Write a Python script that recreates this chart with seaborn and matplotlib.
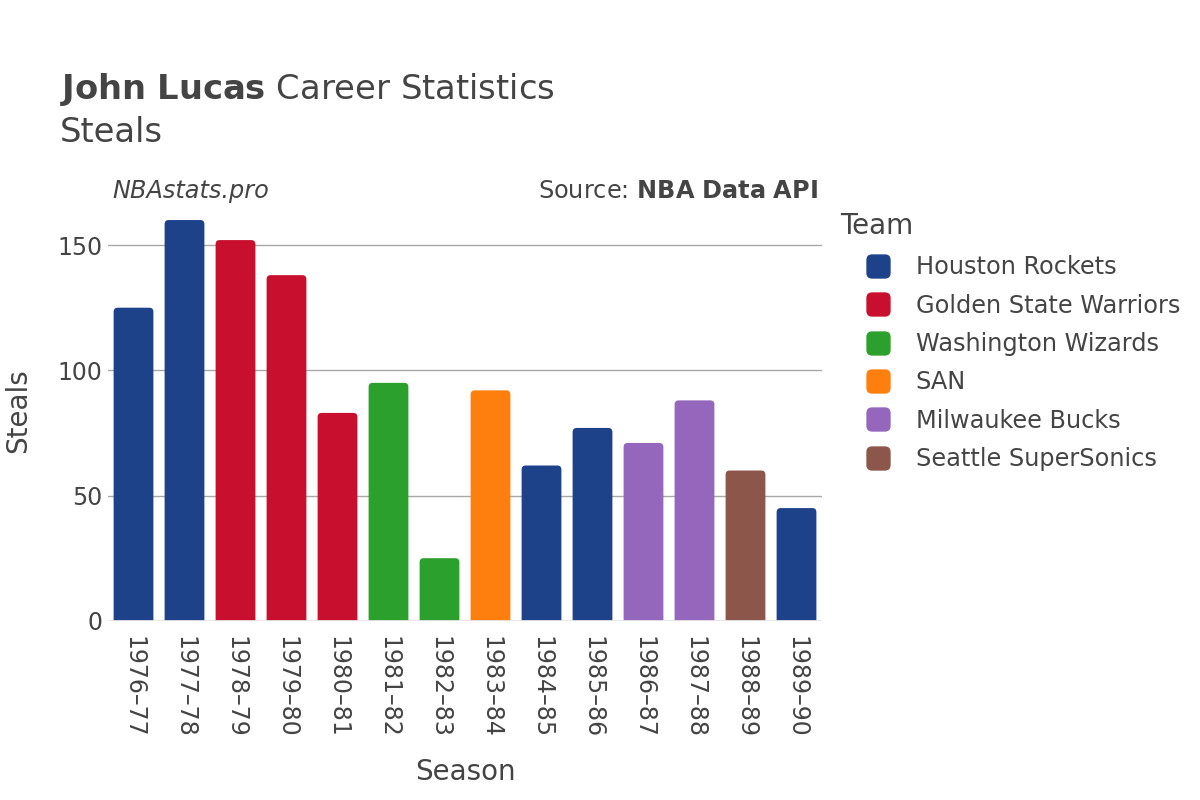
import pandas as pd
import seaborn as sns
import matplotlib.pyplot as plt
from matplotlib.lines import Line2D
from matplotlib.patches import FancyBboxPatch, BoxStyle

# Chart data
seasons = ['1976–77', '1977–78', '1978–79', '1979–80', '1980–81', '1981–82', '1982–83',
           '1983–84', '1984–85', '1985–86', '1986–87', '1987–88', '1988–89', '1989–90']
steals = [125, 160, 152, 138, 83, 95, 25, 92, 62, 77, 71, 88, 60, 45]
teams = ['Houston Rockets', 'Houston Rockets', 'Golden State Warriors', 'Golden State Warriors',
         'Golden State Warriors', 'Washington Wizards', 'Washington Wizards', 'SAN',
         'Houston Rockets', 'Houston Rockets', 'Milwaukee Bucks', 'Milwaukee Bucks',
         'Seattle SuperSonics', 'Houston Rockets']
team_order = ['Houston Rockets', 'Golden State Warriors', 'Washington Wizards', 'SAN',
              'Milwaukee Bucks', 'Seattle SuperSonics']
team_colors = ['#1d428a', '#c8102e', '#2ca02c', '#ff7f0e', '#9467bd', '#8c564b']
y_ticks = [0, 50, 100, 150]

df = pd.DataFrame({'Season': seasons, 'Steals': steals, 'Team': teams})
palette = dict(zip(team_order, team_colors))

sns.set_theme(style='white')
plt.rcParams['font.family'] = ['DejaVu Sans']
text_col = '#444444'

fig = plt.figure(figsize=(12, 8), dpi=100)
ax = fig.add_axes([0.09, 0.224, 0.595, 0.526])

sns.barplot(data=df, x='Season', y='Steals', hue='Team', hue_order=team_order,
            palette=palette, dodge=False, width=0.78, saturation=1, ax=ax, legend=False)

ax.set_ylim(0, 168)
ax.set_xlim(-0.5, len(seasons) - 0.5)

# swap the plain bars for ones with rounded tops
for p in list(ax.patches):
    h = p.get_height()
    if not h or h != h:
        p.remove()
        continue
    x0, w = p.get_x(), p.get_width()
    fc = p.get_facecolor()
    p.remove()
    rb = FancyBboxPatch((x0, -3), w, h + 3, boxstyle='round,pad=0,rounding_size=0.08',
                        mutation_aspect=20.4, facecolor=fc, edgecolor='none', zorder=3)
    ax.add_patch(rb)

ax.set_yticks(y_ticks)
ax.set_yticklabels([str(t) for t in y_ticks], fontsize=17, color=text_col)
ax.grid(axis='y', color='#a8a8a8', linewidth=1, zorder=0)
ax.axhline(0, color='#e8e8e8', linewidth=2, zorder=4)
for s in ax.spines.values():
    s.set_visible(False)
ax.tick_params(axis='x', labelrotation=-90, labelsize=17, colors=text_col, length=0, pad=11)
ax.tick_params(axis='y', length=0, pad=4)
for lbl in ax.get_xticklabels():
    lbl.set_verticalalignment('top')
    lbl.set_color(text_col)

ax.set_xlabel('Season', fontsize=20, color=text_col, labelpad=14)
ax.set_ylabel('Steals', fontsize=20, color=text_col, labelpad=18)

# titles
fig.text(0.05, 0.888, r'$\bf{John\ Lucas}$ Career Statistics', fontsize=24.3,
         color=text_col, va='center')
fig.text(0.05, 0.834, 'Steals', fontsize=24.3, color=text_col, va='center')
fig.text(0.094, 0.761, 'NBAstats.pro', fontsize=17.3, style='italic', color=text_col,
         va='center')
fig.text(0.682, 0.761, r'Source: $\bf{NBA\ Data\ API}$', fontsize=17.3, color=text_col,
         va='center', ha='right')

# legend
fig.text(0.7, 0.717, 'Team', fontsize=20, color=text_col, va='center')
rsq = BoxStyle.Round(pad=0, rounding_size=0.22)(-0.5, -0.5, 1, 1, 1)
handles = [Line2D([0], [0], marker=rsq, linestyle='', markersize=16.5,
                  markerfacecolor=c, markeredgecolor=c) for c in team_colors]
leg = fig.legend(handles, team_order, loc='upper left', bbox_to_anchor=(0.722, 0.681),
                 frameon=False, fontsize=17.3, labelspacing=0.6, handletextpad=1.05,
                 handlelength=1.0, borderaxespad=0, borderpad=0)
for t in leg.get_texts():
    t.set_color(text_col)

fig.savefig('out.png', dpi=100)
